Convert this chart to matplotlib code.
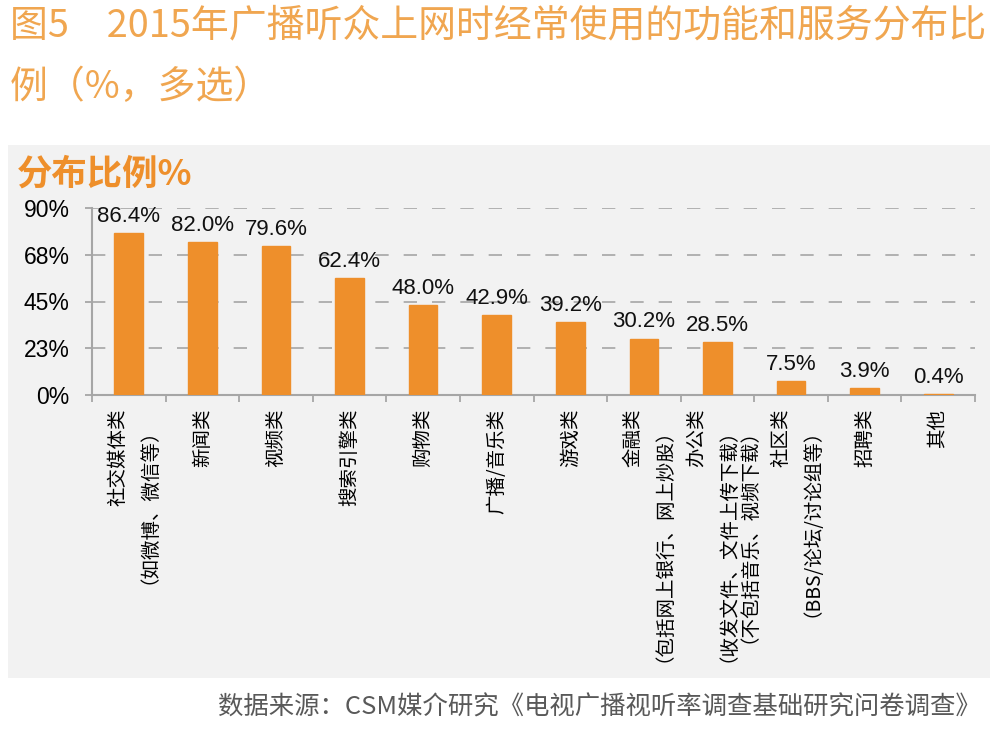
import matplotlib
matplotlib.use('Agg')
import matplotlib.pyplot as plt
from matplotlib.patches import Rectangle
from matplotlib.ticker import FixedLocator

plt.rcParams['font.family'] = ['Noto Sans CJK SC', 'DejaVu Sans']

# 数据
categories = ['社交媒体类\n（如微博、微信等）', '新闻类', '视频类', '搜索引擎类', '购物类',
              '广播/音乐类', '游戏类', '金融类\n（包括网上银行、网上炒股）',
              '办公类\n（收发文件、文件上传下载）\n（不包括音乐、视频下载）',
              '社区类\n（BBS/论坛/讨论组等）', '招聘类', '其他']
values = [86.4, 82.0, 79.6, 62.4, 48.0, 42.9, 39.2, 30.2, 28.5, 7.5, 3.9, 0.4]
ytick_pos = [0, 25, 50, 75, 100]
ytick_labels = ['0%', '23%', '45%', '68%', '90%']

title1 = '图5\u30002015年广播听众上网时经常使用的功能和服务分布比'
title2 = '例（%，多选）'
heading = '分布比例%'
source = '数据来源：CSM媒介研究《电视广播视听率调查基础研究问卷调查》'

orange = '#EE8F2B'
title_orange = '#F0A650'
grey = '#A6A6A6'

W, H = 1000, 733
fig = plt.figure(figsize=(10, 7.33), dpi=100)
fig.patch.set_facecolor('white')

# 灰色面板
fig.patches.append(Rectangle((8 / W, 1 - 678 / H), (990 - 8) / W, (678 - 145) / H,
                             transform=fig.transFigure, facecolor='#F2F2F2',
                             edgecolor='none', zorder=-5))

fig.text(10 / W, 1 - 26 / H, title1, ha='left', va='center', fontsize=27.3,
         color=title_orange, fontweight='light')
fig.text(10 / W, 1 - 88 / H, title2, ha='left', va='center', fontsize=27.3,
         color=title_orange, fontweight='light')
fig.text(17 / W, 1 - 174 / H, heading, ha='left', va='center', fontsize=25.5,
         color=orange, fontweight='bold')
fig.text(981 / W, 1 - 708 / H, source, ha='right', va='center', fontsize=18.3,
         color='#595959', fontweight='light')

ax = fig.add_axes([92 / W, 1 - 395 / H, (975 - 92) / W, (395 - 208) / H])
ax.patch.set_alpha(0)

x = list(range(len(values)))
ax.bar(x, values, width=0.39, color=orange, edgecolor=orange, linewidth=1, zorder=3)

for xi, v in zip(x, values):
    ax.annotate(f'{v:.1f}%', (xi, v), xytext=(0, 8), textcoords='offset points',
                ha='center', va='baseline', fontsize=16,
                family=['Liberation Sans', 'DejaVu Sans'], color='#111111')

ax.set_xlim(-0.5, len(values) - 0.5)
ax.set_ylim(0, 100)
ax.set_yticks(ytick_pos)
ax.set_yticklabels(ytick_labels, family=['Liberation Sans', 'DejaVu Sans'], fontsize=16.5)
ax.tick_params(axis='y', length=5, width=1.3, color=grey, pad=11)

ax.set_xticks(x)
ax.set_xticklabels(categories, rotation=90, fontsize=14, linespacing=1.0,
                   multialignment='right', va='top')
ax.xaxis.set_minor_locator(FixedLocator([i - 0.5 for i in range(len(values) + 1)]))
ax.tick_params(axis='x', which='major', length=0, pad=10)
ax.tick_params(axis='x', which='minor', length=5, width=1.3, color=grey)

ax.yaxis.grid(True, linestyle=(0, (8, 9)), color=grey, linewidth=1.2)
ax.set_axisbelow(True)

for s in ['top', 'right']:
    ax.spines[s].set_visible(False)
for s in ['left', 'bottom']:
    ax.spines[s].set_color(grey)
    ax.spines[s].set_linewidth(1.5)

fig.savefig('out.png', dpi=100)
